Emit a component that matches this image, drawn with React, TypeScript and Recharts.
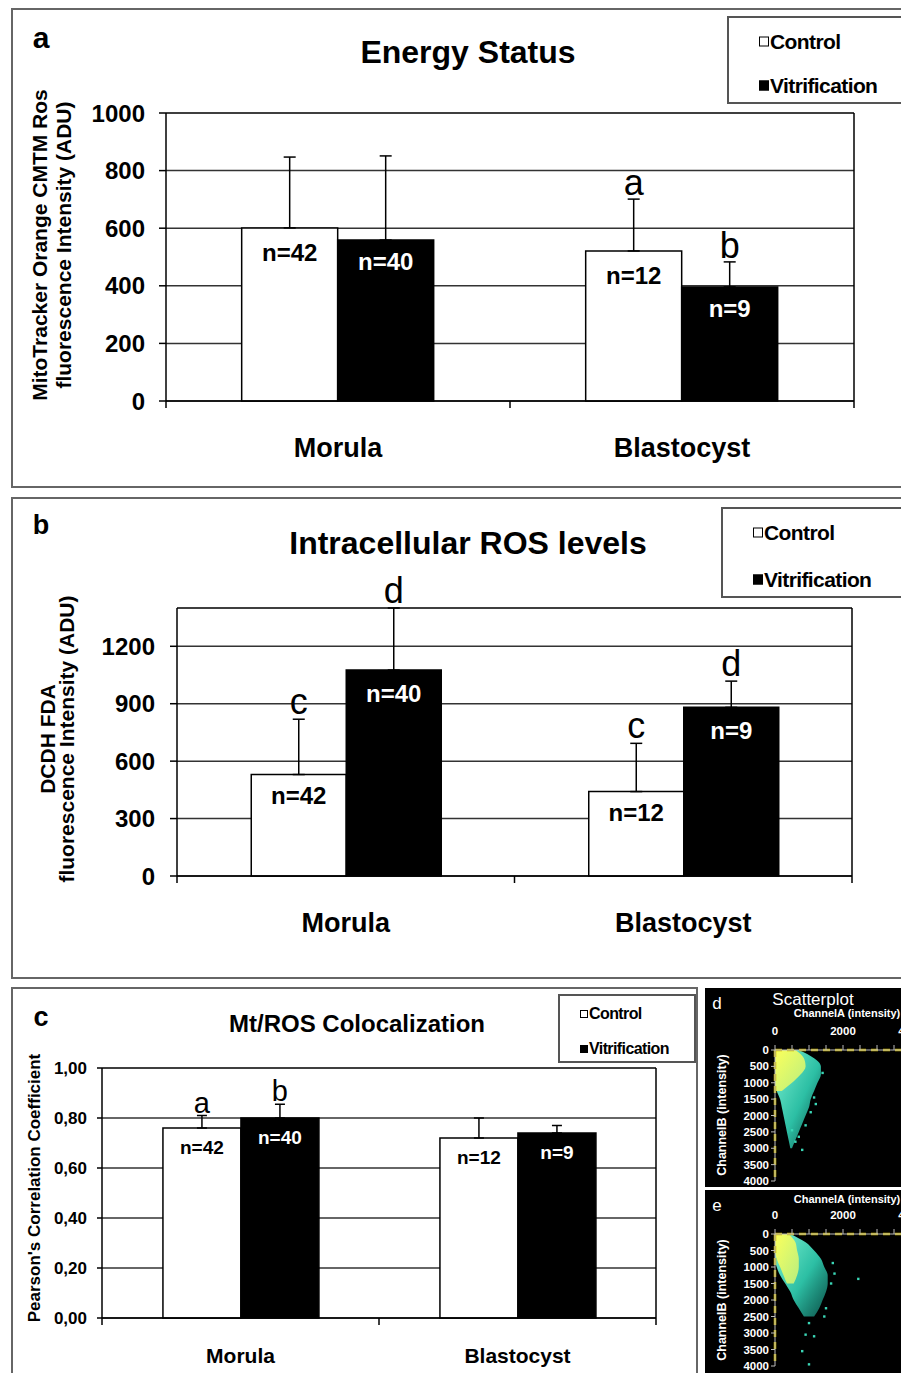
import React from 'react';
import {
  BarChart, Bar, XAxis, YAxis, CartesianGrid, ErrorBar, LabelList, Legend,
  ReferenceLine, ComposedChart, Area, Scatter,
} from 'recharts';

const FONT = "'Liberation Sans', Arial, Helvetica, sans-serif";

// ---------- shared ----------
const categories = ['Morula', 'Blastocyst'];
const seriesNames = ['Control', 'Vitrification'];

// ---------- panel a : Energy Status ----------
const energyControl = [601, 521];
const energyControlErr = [246, 180];
const energyVitri = [559, 396];
const energyVitriErr = [292, 87];
const energyControlN = ['n=42', 'n=12'];
const energyVitriN = ['n=40', 'n=9'];
const energyControlSig = ['', 'a'];
const energyVitriSig = ['', 'b'];
const energyTicks = [0, 200, 400, 600, 800, 1000];
const energyMax = 1000;

// ---------- panel b : Intracellular ROS levels ----------
const rosControl = [530, 441];
const rosControlErr = [289, 252];
const rosVitri = [1076, 881];
const rosVitriErr = [324, 137];
const rosControlN = ['n=42', 'n=12'];
const rosVitriN = ['n=40', 'n=9'];
const rosControlSig = ['c', 'c'];
const rosVitriSig = ['d', 'd'];
const rosTicks = [0, 300, 600, 900, 1200];
const rosMax = 1400;

// ---------- panel c : Mt/ROS Colocalization ----------
const colocControl = [0.76, 0.72];
const colocControlErr = [0.05, 0.08];
const colocVitri = [0.8, 0.74];
const colocVitriErr = [0.055, 0.03];
const colocControlN = ['n=42', 'n=12'];
const colocVitriN = ['n=40', 'n=9'];
const colocControlSig = ['a', ''];
const colocVitriSig = ['b', ''];
const colocTicks = [0, 0.2, 0.4, 0.6, 0.8, 1.0];
const colocMax = 1.0;

// ---------- panels d / e : scatterplots (ChannelB rows, ChannelA extents) ----------
const channelRows = [0, 250, 500, 750, 1000, 1250, 1500, 1750, 2000, 2250, 2500, 2750, 3000];
const dHaloLow = [0, 0, 0, 0, 0, 50, 150, 200, 250, 300, 350, 400, 450];
const dHaloHigh = [700, 1150, 1350, 1350, 1250, 1150, 1050, 1000, 900, 800, 700, 600, 500];
const dCoreLow = [0, 0, 0, 0, 0, 0, null, null, null, null, null, null, null];
const dCoreHigh = [600, 850, 900, 750, 500, 200, null, null, null, null, null, null, null];
const dOutlierA = [1400, 1150, 1200, 1050, 900, 500, 700, 600, 800];
const dOutlierB = [700, 1450, 1650, 1900, 2300, 2450, 2650, 2800, 3050];

const eHaloLow = [0, 0, 0, 0, 50, 150, 300, 450, 550, 700, 850, null, null];
const eHaloHigh = [450, 900, 1150, 1350, 1450, 1550, 1550, 1500, 1400, 1300, 1150, null, null];
const eCoreLow = [0, 0, 0, 50, 150, 250, 350, null, null, null, null, null, null];
const eCoreHigh = [400, 600, 650, 700, 700, 650, 550, null, null, null, null, null, null];
const eOutlierA = [2450, 1700, 1750, 1650, 1500, 1450, 1000, 900, 1150, 800, 1000];
const eOutlierB = [1360, 880, 1200, 1500, 2250, 2500, 2700, 3050, 3100, 3550, 3950];

const scatterTicks = [0, 500, 1000, 1500, 2000, 2500, 3000, 3500, 4000];

// ---------- helpers ----------
function buildRows(ctl: number[], ctlErr: number[], vit: number[], vitErr: number[],
  ctlN: string[], vitN: string[], ctlSig: string[], vitSig: string[]) {
  return categories.map((cat, i) => ({
    cat,
    ctl: ctl[i], ctlE: ctlErr[i], ctlErr: [0, ctlErr[i]], ctlN: ctlN[i], ctlSig: ctlSig[i],
    vit: vit[i], vitE: vitErr[i], vitErr: [0, vitErr[i]], vitN: vitN[i], vitSig: vitSig[i],
  }));
}

function buildScatterRows(low: (number | null)[], high: (number | null)[], cLow: (number | null)[], cHigh: (number | null)[]) {
  return channelRows.map((b, i) => ({
    b,
    halo: low[i] == null || high[i] == null ? null : [low[i], high[i]],
    core: cLow[i] == null || cHigh[i] == null ? null : [cLow[i], cHigh[i]],
  }));
}

function buildPoints(a: number[], b: number[]) {
  return a.map((v, i) => ({ a: v, b: b[i] }));
}

const energyRows = buildRows(energyControl, energyControlErr, energyVitri, energyVitriErr,
  energyControlN, energyVitriN, energyControlSig, energyVitriSig);
const rosRows = buildRows(rosControl, rosControlErr, rosVitri, rosVitriErr,
  rosControlN, rosVitriN, rosControlSig, rosVitriSig);
const colocRows = buildRows(colocControl, colocControlErr, colocVitri, colocVitriErr,
  colocControlN, colocVitriN, colocControlSig, colocVitriSig);

type Cfg = {
  top: number; width: number; height: number;
  plotLeft: number; plotRight: number; plotTop: number; plotBottom: number;
  yAxisWidth: number; xAxisHeight: number;
  ticks: number[]; max: number; fmt?: (v: number) => string;
  tickFont: number; tickMargin: number; tickSize: number;
  catFont: number; catDy: number;
  nFont: number; nOffCtl: number; nOffVit: number;
  sigFont: number; sigGap: number; capWidth: number;
  title: string; titleX: number; titleY: number; titleFont: number;
  letter: string; letterX: number; letterY: number; letterFont: number;
  yLabel: string[]; yLabelX: number[]; yLabelY: number; yLabelFont: number;
  legend: { left: number; top: number; width: number; height: number; font: number; rows: number[]; boxX: number; sq: number };
};

const makeCatTick = (band: number, fontSize: number, dy: number) => (props: any) => {
  const { x, y, payload, index } = props;
  const last = index === categories.length - 1;
  return (
    <g>
      <line x1={x - band / 2} x2={x - band / 2} y1={y} y2={y + 7} stroke="#000" strokeWidth={1.5} />
      {last && <line x1={x + band / 2} x2={x + band / 2} y1={y} y2={y + 7} stroke="#000" strokeWidth={1.5} />}
      <text x={x} y={y + dy} textAnchor="middle" fontSize={fontSize} fontWeight="bold" fontFamily={FONT} fill="#000">
        {payload.value}
      </text>
    </g>
  );
};

const makeSigLabel = (rows: any[], key: 'ctl' | 'vit', fontSize: number, gap: number) => (props: any) => {
  const vb = props.viewBox && props.viewBox.width != null ? props.viewBox : props;
  const idx = props.index;
  const row = rows[idx];
  if (!row || !row[key + 'Sig']) return null;
  const h = Math.abs(vb.height);
  const topY = Math.min(vb.y, vb.y + vb.height);
  const pxPerUnit = h / row[key];
  const errTop = topY - row[key + 'E'] * pxPerUnit;
  return (
    <text x={vb.x + vb.width / 2} y={errTop - gap} textAnchor="middle" fontSize={fontSize}
      fontFamily={FONT} fill="#000">
      {row[key + 'Sig']}
    </text>
  );
};

const makeLegend = (lg: Cfg['legend']) => (props: any) => {
  const payload = props.payload || [];
  return (
    <div style={{
      width: lg.width, height: lg.height, border: '2px solid #555', background: '#fff',
      boxSizing: 'border-box', position: 'relative', fontFamily: FONT, fontWeight: 'bold',
    }}>
      {payload.map((e: any, i: number) => (
        <div key={i} style={{
          position: 'absolute', left: lg.boxX, top: lg.rows[i], transform: 'translateY(-50%)',
          display: 'flex', alignItems: 'center', fontSize: lg.font, lineHeight: 1, whiteSpace: 'nowrap',
          letterSpacing: -0.6,
        }}>
          <span style={{
            display: 'inline-block', width: lg.sq, height: lg.sq, boxSizing: 'border-box',
            border: '1.5px solid #000', background: i === 0 ? '#fff' : '#000', marginRight: 1,
          }} />
          <span>{e.value}</span>
        </div>
      ))}
    </div>
  );
};

function BarPanel({ cfg, rows }: { cfg: Cfg; rows: any[] }) {
  const band = (cfg.plotRight - cfg.plotLeft) / categories.length;
  const margin = {
    top: cfg.plotTop,
    left: cfg.plotLeft - cfg.yAxisWidth,
    right: cfg.width - cfg.plotRight,
    bottom: cfg.height - cfg.plotBottom - cfg.xAxisHeight,
  };
  return (
    <div style={{ position: 'absolute', left: 0, top: cfg.top, width: cfg.width, height: cfg.height }}>
      <BarChart width={cfg.width} height={cfg.height} data={rows} margin={margin}
        barGap={0} barCategoryGap="22%">
        <CartesianGrid vertical={false} stroke="#333" strokeWidth={1.5} />
        <XAxis dataKey="cat" height={cfg.xAxisHeight} tickLine={false} tickSize={0} tickMargin={0}
          axisLine={{ stroke: '#000', strokeWidth: 1.5 }} interval={0}
          tick={makeCatTick(band, cfg.catFont, cfg.catDy)} />
        <XAxis xAxisId="frame" type="number" domain={[0, 1]} hide />
        <YAxis type="number" domain={[0, cfg.max]} ticks={cfg.ticks} interval={0} width={cfg.yAxisWidth}
          tickFormatter={cfg.fmt} tickSize={cfg.tickSize} tickMargin={cfg.tickMargin}
          axisLine={{ stroke: '#000', strokeWidth: 1.5 }} tickLine={{ stroke: '#000', strokeWidth: 1.5 }}
          tick={{ fill: '#000', fontSize: cfg.tickFont, fontWeight: 'bold', fontFamily: FONT }} />
        <ReferenceLine y={cfg.max} stroke="#333" strokeWidth={1.5} />
        <ReferenceLine xAxisId="frame" x={1} stroke="#000" strokeWidth={1.5} />
        <Legend layout="vertical" align="center" verticalAlign="middle" content={makeLegend(cfg.legend)}
          wrapperStyle={{ left: cfg.legend.left, top: cfg.legend.top, width: cfg.legend.width, height: cfg.legend.height }} />
        <Bar dataKey="ctl" name={seriesNames[0]} fill="#fff" stroke="#000" strokeWidth={1.5} isAnimationActive={false}>
          <ErrorBar dataKey="ctlErr" width={cfg.capWidth} stroke="#000" strokeWidth={1.5} direction="y" />
          <LabelList dataKey="ctlN" position="insideTop" offset={cfg.nOffCtl} fill="#000"
            fontSize={cfg.nFont} fontWeight="bold" fontFamily={FONT} />
          <LabelList dataKey="ctlSig" content={makeSigLabel(rows, 'ctl', cfg.sigFont, cfg.sigGap)} />
        </Bar>
        <Bar dataKey="vit" name={seriesNames[1]} fill="#000" stroke="#000" strokeWidth={1.5} isAnimationActive={false}>
          <ErrorBar dataKey="vitErr" width={cfg.capWidth} stroke="#000" strokeWidth={1.5} direction="y" />
          <LabelList dataKey="vitN" position="insideTop" offset={cfg.nOffVit} fill="#fff"
            fontSize={cfg.nFont} fontWeight="bold" fontFamily={FONT} />
          <LabelList dataKey="vitSig" content={makeSigLabel(rows, 'vit', cfg.sigFont, cfg.sigGap)} />
        </Bar>
      </BarChart>
      <svg width={cfg.width} height={cfg.height} style={{ position: 'absolute', left: 0, top: 0, pointerEvents: 'none' }}>
        <text x={cfg.letterX} y={cfg.letterY} fontSize={cfg.letterFont} fontWeight="bold" fontFamily={FONT} textAnchor="middle">{cfg.letter}</text>
        <text x={cfg.titleX} y={cfg.titleY} fontSize={cfg.titleFont} fontWeight="bold" fontFamily={FONT} textAnchor="middle">{cfg.title}</text>
        {cfg.yLabel.map((line, i) => (
          <text key={i} transform={`translate(${cfg.yLabelX[i]},${cfg.yLabelY}) rotate(-90)`} textAnchor="middle"
            fontSize={cfg.yLabelFont} fontWeight="bold" fontFamily={FONT}>{line}</text>
        ))}
      </svg>
    </div>
  );
}

const cfgA: Cfg = {
  top: 0, width: 901, height: 487,
  plotLeft: 166, plotRight: 854, plotTop: 113, plotBottom: 401,
  yAxisWidth: 60, xAxisHeight: 60,
  ticks: energyTicks, max: energyMax,
  tickFont: 24, tickMargin: 14, tickSize: 7,
  catFont: 27, catDy: 56,
  nFont: 24, nOffCtl: 16, nOffVit: 13,
  sigFont: 36, sigGap: 4, capWidth: 6,
  title: 'Energy Status', titleX: 468, titleY: 63, titleFont: 32,
  letter: 'a', letterX: 41, letterY: 48, letterFont: 30,
  yLabel: ['MitoTracker Orange CMTM Ros', 'fluorescence Intensity (ADU)'], yLabelX: [47, 71], yLabelY: 245, yLabelFont: 21,
  legend: { left: 727, top: 16, width: 220, height: 88, font: 21, rows: [23, 67], boxX: 30, sq: 10 },
};

const cfgB: Cfg = {
  top: 490, width: 901, height: 490,
  plotLeft: 177, plotRight: 852, plotTop: 118, plotBottom: 386,
  yAxisWidth: 60, xAxisHeight: 60,
  ticks: rosTicks, max: rosMax,
  tickFont: 24, tickMargin: 15, tickSize: 7,
  catFont: 27, catDy: 56,
  nFont: 24, nOffCtl: 12, nOffVit: 15,
  sigFont: 36, sigGap: 5, capWidth: 6,
  title: 'Intracellular ROS levels', titleX: 468, titleY: 64, titleFont: 32,
  letter: 'b', letterX: 41, letterY: 44, letterFont: 27,
  yLabel: ['DCDH FDA', 'fluorescence Intensity (ADU)'], yLabelX: [55, 74], yLabelY: 249, yLabelFont: 21,
  legend: { left: 721, top: 17, width: 220, height: 91, font: 21, rows: [23, 70], boxX: 30, sq: 10 },
};

const cfgC: Cfg = {
  top: 985, width: 700, height: 388,
  plotLeft: 102, plotRight: 656, plotTop: 83, plotBottom: 333,
  yAxisWidth: 50, xAxisHeight: 50,
  ticks: colocTicks, max: colocMax, fmt: (v: number) => v.toFixed(2).replace('.', ','),
  tickFont: 17, tickMargin: 10, tickSize: 5,
  catFont: 21, catDy: 45,
  nFont: 19, nOffCtl: 13, nOffVit: 13,
  sigFont: 29, sigGap: 3, capWidth: 5,
  title: 'Mt/ROS Colocalization', titleX: 357, titleY: 47, titleFont: 24,
  letter: 'c', letterX: 41, letterY: 41, letterFont: 27,
  yLabel: ["Pearson's Correlation Coefficient"], yLabelX: [40], yLabelY: 203, yLabelFont: 17,
  legend: { left: 558, top: 9, width: 138, height: 69, font: 16, rows: [18, 53], boxX: 20, sq: 8 },
};

type SCfg = { top: number; height: number; plotTop: number; plotBottom: number; letter: string; showTitle: boolean; chanAY: number; chanBY: number; letterY: number };

const tinyDot = (props: any) => (
  <rect x={props.cx - 1.2} y={props.cy - 1.2} width={2.4} height={2.4} fill="#3ad6b6" />
);

function ScatterPanel({ cfg, rows, points, gid }: { cfg: SCfg; rows: any[]; points: any[]; gid: string }) {
  const W = 232;
  return (
    <div style={{ position: 'absolute', left: 705, top: cfg.top, width: 196, height: cfg.height, background: '#000', overflow: 'hidden' }}>
      <ComposedChart layout="vertical" width={W} height={cfg.height} data={rows}
        margin={{ top: cfg.plotTop - 20, right: W - 206, bottom: cfg.height - cfg.plotBottom, left: 0 }}>
        <defs>
          <linearGradient id={`halo${gid}`} x1="0" y1="0" x2="1" y2="1">
            <stop offset="0%" stopColor="#7ff2d2" stopOpacity={1} />
            <stop offset="55%" stopColor="#2fc9ad" stopOpacity={0.95} />
            <stop offset="100%" stopColor="#137a6c" stopOpacity={0.7} />
          </linearGradient>
          <linearGradient id={`core${gid}`} x1="0" y1="0" x2="1" y2="1">
            <stop offset="0%" stopColor="#fbff5a" stopOpacity={1} />
            <stop offset="100%" stopColor="#c6f27a" stopOpacity={0.9} />
          </linearGradient>
        </defs>
        <XAxis type="number" dataKey="a" orientation="top" domain={[0, 4000]} ticks={scatterTicks} interval={0}
          height={20} tickFormatter={(v: number) => (v % 2000 === 0 ? String(v) : '')}
          tickSize={5} tickMargin={10} axisLine={{ stroke: '#bbb' }} tickLine={{ stroke: '#bbb' }}
          tick={{ fill: '#fff', fontSize: 11.5, fontWeight: 'bold', fontFamily: FONT }} allowDataOverflow />
        <YAxis type="number" dataKey="b" domain={[0, 4000]} ticks={scatterTicks} interval={0} width={70}
          tickSize={4} tickMargin={2} axisLine={{ stroke: '#bbb' }} tickLine={{ stroke: '#bbb' }}
          tick={{ fill: '#fff', fontSize: 11.5, fontWeight: 'bold', fontFamily: FONT }} allowDataOverflow />
        <Area type="monotone" dataKey="halo" stroke="none" fill={`url(#halo${gid})`} fillOpacity={1} isAnimationActive={false} />
        <Area type="monotone" dataKey="core" stroke="none" fill={`url(#core${gid})`} fillOpacity={1} isAnimationActive={false} />
        <Scatter data={points} dataKey="a" shape={tinyDot} isAnimationActive={false} />
        <ReferenceLine x={0} stroke="#c9b400" strokeWidth={2.5} strokeDasharray="7 5" />
        <ReferenceLine y={0} stroke="#c9b400" strokeWidth={2.5} strokeDasharray="7 5" />
      </ComposedChart>
      <svg width={196} height={cfg.height} style={{ position: 'absolute', left: 0, top: 0, pointerEvents: 'none' }}>
        <text x={12} y={cfg.letterY} fill="#fff" fontSize={17} fontFamily={FONT} textAnchor="middle">{cfg.letter}</text>
        {cfg.showTitle && <text x={108} y={17} fill="#fff" fontSize={17} fontFamily={FONT} textAnchor="middle">Scatterplot</text>}
        <text x={142} y={cfg.chanAY} fill="#fff" fontSize={11} fontWeight="bold" fontFamily={FONT} textAnchor="middle">ChannelA (intensity)</text>
        <text transform={`translate(21,${cfg.chanBY}) rotate(-90)`} fill="#fff" fontSize={12.5} fontWeight="bold" fontFamily={FONT} textAnchor="middle">ChannelB (intensity)</text>
      </svg>
    </div>
  );
}

const cfgD: SCfg = { top: 988, height: 199, plotTop: 62, plotBottom: 193, letter: 'd', showTitle: true, chanAY: 29, chanBY: 127, letterY: 21 };
const cfgE: SCfg = { top: 1190, height: 183, plotTop: 44, plotBottom: 176, letter: 'e', showTitle: false, chanAY: 13, chanBY: 110, letterY: 21 };

const dRows = buildScatterRows(dHaloLow, dHaloHigh, dCoreLow, dCoreHigh);
const eRows = buildScatterRows(eHaloLow, eHaloHigh, eCoreLow, eCoreHigh);
const dPoints = buildPoints(dOutlierA, dOutlierB);
const ePoints = buildPoints(eOutlierA, eOutlierB);

const frameStyle = (left: number, top: number, width: number, height: number): React.CSSProperties => ({
  position: 'absolute', left, top, width, height, border: '2px solid #666', boxSizing: 'border-box',
});

export default function App() {
  return (
    <div style={{ position: 'absolute', left: 0, top: 0, width: 901, height: 1373, background: '#fff', overflow: 'hidden', fontFamily: FONT }}>
      <div style={frameStyle(11, 8, 960, 480)} />
      <div style={frameStyle(11, 497, 960, 482)} />
      <div style={frameStyle(11, 987, 687, 420)} />
      <BarPanel cfg={cfgA} rows={energyRows} />
      <BarPanel cfg={cfgB} rows={rosRows} />
      <BarPanel cfg={cfgC} rows={colocRows} />
      <ScatterPanel cfg={cfgD} rows={dRows} points={dPoints} gid="d" />
      <ScatterPanel cfg={cfgE} rows={eRows} points={ePoints} gid="e" />
    </div>
  );
}
